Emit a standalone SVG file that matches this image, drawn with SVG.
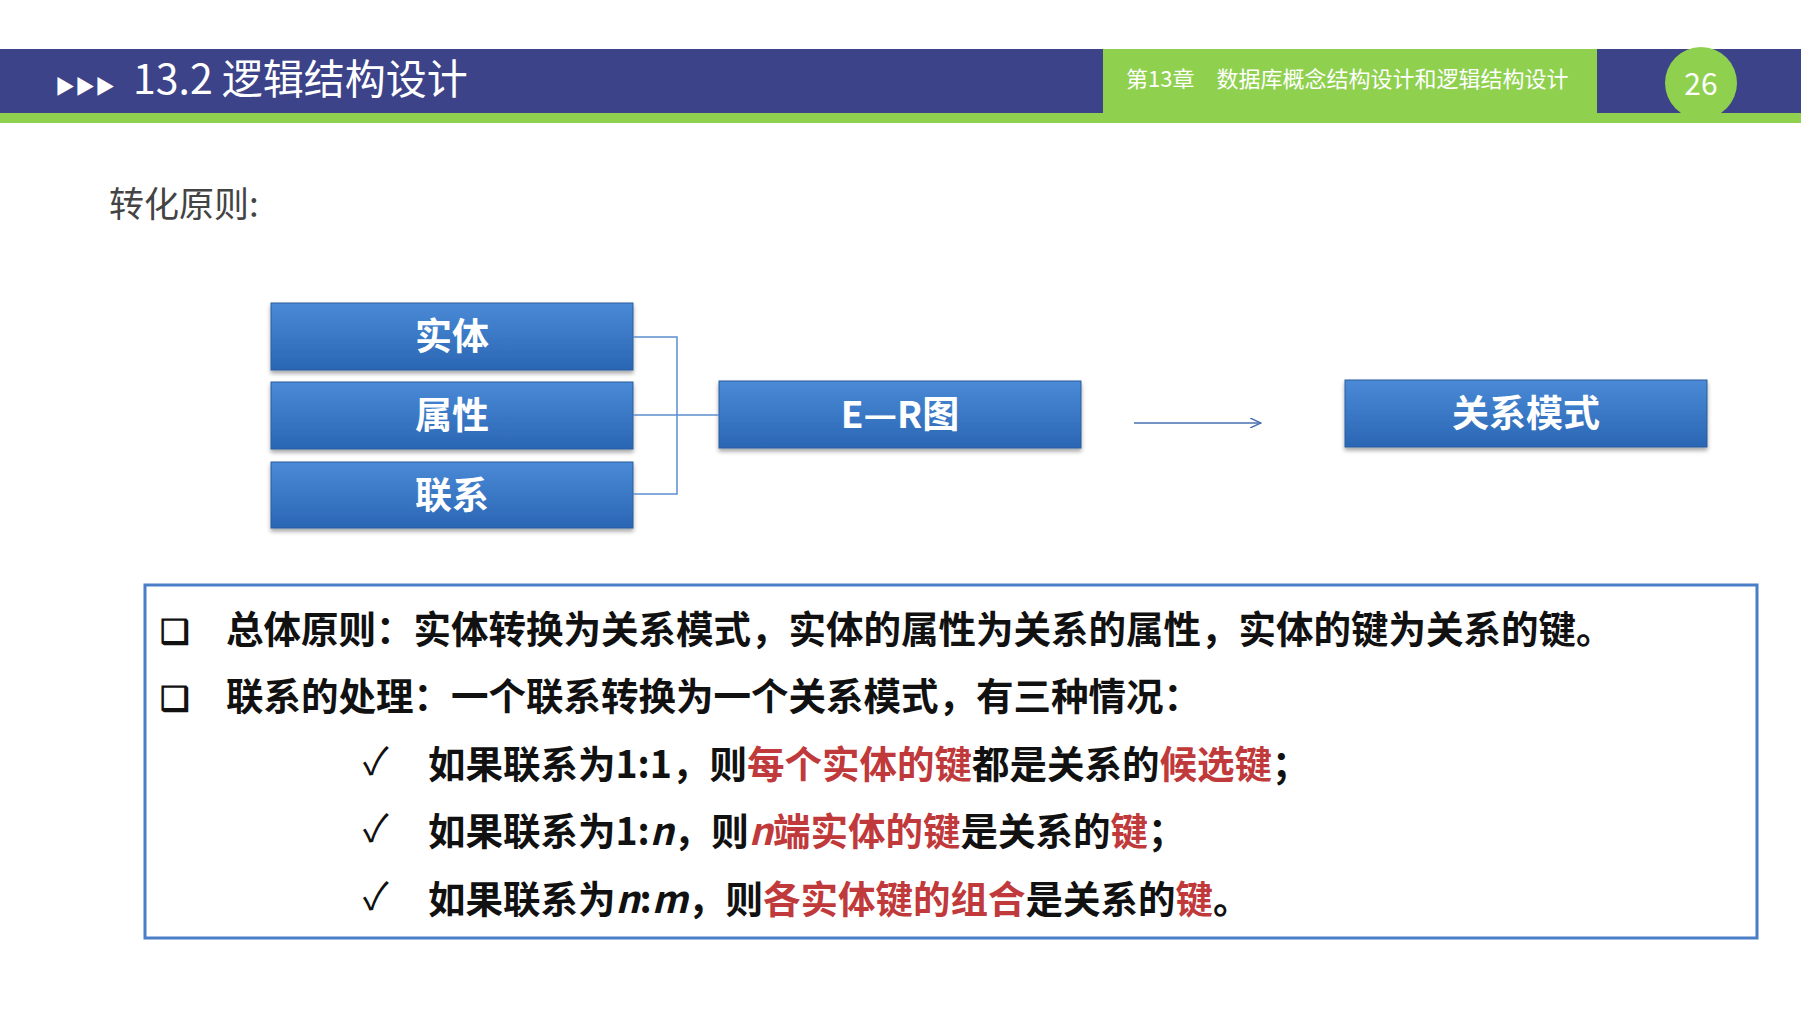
<svg xmlns="http://www.w3.org/2000/svg" width="1801" height="1013" viewBox="0 0 1801 1013">
<defs>
<linearGradient id="bg" x1="0" y1="0" x2="0" y2="1"><stop offset="0" stop-color="#4a8ad6"/><stop offset="1" stop-color="#2a66b4"/></linearGradient>
<filter id="sh" x="-5%" y="-10%" width="110%" height="130%"><feDropShadow dx="0" dy="3" stdDeviation="2" flood-color="#000" flood-opacity="0.35"/></filter>
<marker id="ar" markerWidth="12" markerHeight="10" refX="11" refY="5" orient="auto" markerUnits="userSpaceOnUse"><path d="M0,0 L11,5 L0,10" fill="none" stroke="#4a6fb0" stroke-width="1.5"/></marker>
</defs>
<style>
.f{font-family:"Noto Sans CJK SC","Liberation Sans",sans-serif}
.bx{fill:url(#bg);stroke:#2a5c9e;stroke-width:1;filter:url(#sh)}
.bt{font-size:37px;font-weight:bold;fill:#fff;text-anchor:middle}
.t{font-size:37.5px;font-weight:bold;fill:#111}
.r{fill:#c0393b}
</style>
<rect width="1801" height="1013" fill="#fff"/>
<rect x="0" y="49" width="1801" height="64" fill="#3c4389"/>
<rect x="0" y="113" width="1801" height="10" fill="#8fd14f"/>
<rect x="1103" y="49" width="494" height="74" fill="#8fd14f"/>
<circle cx="1701" cy="83" r="36" fill="#8fd14f"/>
<text class="f" x="1701" y="95" font-size="30" fill="#fff" text-anchor="middle">26</text>
<text class="f" x="1126" y="87" font-size="22" fill="#fff">第13章　数据库概念结构设计和逻辑结构设计</text>
<text class="f" x="55" y="94" font-size="20" fill="#fff">▶▶▶</text>
<text class="f" x="133" y="94" font-size="41" fill="#fff">13.2 逻辑结构设计</text>
<text class="f" x="109" y="217" font-size="35" fill="#444">转化原则:</text>
<g id="n1"><rect class="bx" x="271" y="303" width="362" height="67"/><text class="f bt" x="452" y="350">实体</text></g>
<g id="n2"><rect class="bx" x="271" y="382" width="362" height="67"/><text class="f bt" x="452" y="429">属性</text></g>
<g id="n3"><rect class="bx" x="271" y="462" width="362" height="66"/><text class="f bt" x="452" y="509">联系</text></g>
<g id="n4"><rect class="bx" x="719" y="381" width="362" height="67"/><text class="f bt" x="900" y="428">E—R图</text></g>
<g id="n5"><rect class="bx" x="1345" y="380" width="362" height="67"/><text class="f bt" x="1526" y="427">关系模式</text></g>
<g id="connectors" fill="none" stroke="#5b8fcf" stroke-width="1.5">
<path d="M633,337 H677 V494 H633 M633,415 H719"/>
<line x1="1134" y1="423" x2="1261" y2="423" stroke="#4a6fb0" marker-end="url(#ar)"/>
</g>
<rect x="145" y="585" width="1612" height="353" fill="none" stroke="#4a7fc8" stroke-width="3"/>
<g class="f t">
<text x="160" y="643" font-size="33">❑</text><text x="226" y="643">总体原则：实体转换为关系模式，实体的属性为关系的属性，实体的键为关系的键。</text>
<text x="160" y="710" font-size="33">❑</text><text x="226" y="710">联系的处理：一个联系转换为一个关系模式，有三种情况：</text>
<text x="363" y="775" font-weight="normal">✓</text><text x="428" y="778">如果联系为1:1，则<tspan class="r">每个实体的键</tspan>都是关系的<tspan class="r">候选键</tspan>；</text>
<text x="363" y="842" font-weight="normal">✓</text><text x="428" y="845">如果联系为1:<tspan font-style="italic">n</tspan>，则<tspan class="r"><tspan font-style="italic">n</tspan>端实体的键</tspan>是关系的<tspan class="r">键</tspan>；</text>
<text x="363" y="910" font-weight="normal">✓</text><text x="428" y="913">如果联系为<tspan font-style="italic">n</tspan>:<tspan font-style="italic">m</tspan>，则<tspan class="r">各实体键的组合</tspan>是关系的<tspan class="r">键</tspan>。</text>
</g>
</svg>
